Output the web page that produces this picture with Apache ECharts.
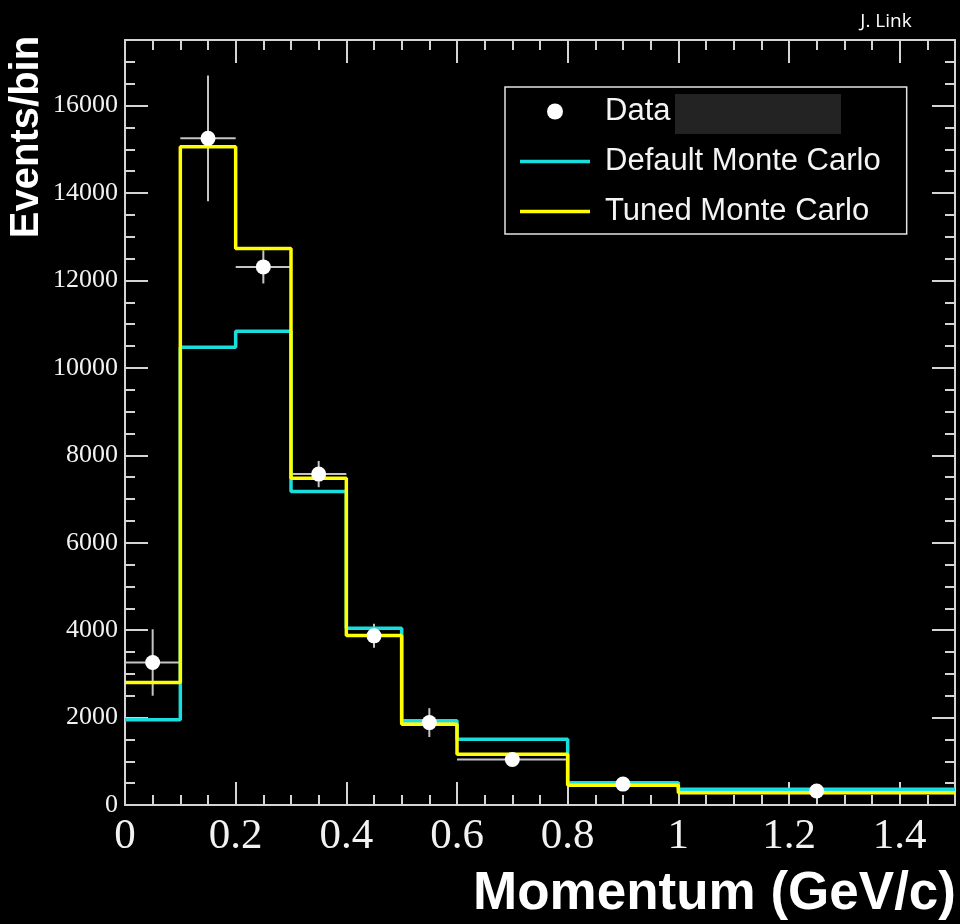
<!DOCTYPE html>
<html>
<head>
<meta charset="utf-8">
<script src="https://cdn.jsdelivr.net/npm/echarts@6/dist/echarts.min.js"></script>
<style>
html,body{margin:0;padding:0;background:#000;}
#chart{width:960px;height:924px;}
</style>
</head>
<body>
<div id="chart"></div>
<script>
// ---- data ----
const binEdges = [0, 0.1, 0.2, 0.3, 0.4, 0.5, 0.6, 0.8, 1.0, 1.5];
const dataValues = [3260, 15250, 12310, 7570, 3870, 1885, 1040, 478, 320];
const dataErrors = [760, 1440, 380, 300, 275, 330, 150, 100, 80];
const defaultMC = [1950, 10470, 10835, 7170, 4045, 1925, 1505, 510, 360];
const tunedMC = [2805, 15060, 12730, 7477, 3876, 1850, 1163, 452, 282];
const xTickLabels = ['0', '0.2', '0.4', '0.6', '0.8', '1', '1.2', '1.4'];
const yTickLabels = ['0', '2000', '4000', '6000', '8000', '10000', '12000', '14000', '16000'];

// ---- build library inputs ----
function stepPoints(vals) {
  const pts = [];
  for (let i = 0; i < vals.length; i++) {
    pts.push([binEdges[i], vals[i]]);
    pts.push([binEdges[i + 1], vals[i]]);
  }
  return pts;
}
const centers = dataValues.map((v, i) => (binEdges[i] + binEdges[i + 1]) / 2);
const scatterData = dataValues.map((v, i) => [centers[i], v]);
const errData = dataValues.map((v, i) => [centers[i], v, binEdges[i], binEdges[i + 1], dataErrors[i]]);

const frameColor = '#d4d4d4';
const labelColor = '#f2f2f2';
const lineIcon = 'path://M0,0L70,0L70,3.5L0,3.5Z';

function xAx(pos, interval, len, labels, line) {
  return {
    type: 'value', position: pos, min: 0, max: 1.5, interval: interval,
    axisLine: { show: line, onZero: false, lineStyle: { color: frameColor, width: 2 } },
    axisTick: { show: true, inside: true, length: len, lineStyle: { color: frameColor, width: 2 } },
    axisLabel: labels ? {
      show: true, color: labelColor, fontFamily: 'Liberation Serif', fontSize: 43, margin: 10,
      formatter: function (v) {
        const k = Math.round(v / 0.2);
        return (Math.abs(v - k * 0.2) < 1e-6 && k < xTickLabels.length) ? xTickLabels[k] : '';
      }
    } : { show: false },
    splitLine: { show: false }
  };
}
function yAx(pos, interval, len, labels, line) {
  return {
    type: 'value', position: pos, min: 0, max: 17500, interval: interval,
    axisLine: { show: line, onZero: false, lineStyle: { color: frameColor, width: 2 } },
    axisTick: { show: true, inside: true, length: len, lineStyle: { color: frameColor, width: 2 } },
    axisLabel: labels ? {
      show: true, color: labelColor, fontFamily: 'Liberation Serif', fontSize: 26, margin: 7,
      formatter: function (v) {
        const k = Math.round(v / 2000);
        return (Math.abs(v - k * 2000) < 1e-6 && k < yTickLabels.length) ? yTickLabels[k] : '';
      }
    } : { show: false },
    splitLine: { show: false }
  };
}

const chart = echarts.init(document.getElementById('chart'), null, { renderer: 'canvas' });
chart.setOption({
  backgroundColor: '#000',
  animation: false,
  grid: { left: 125, right: 5, top: 40, bottom: 119, containLabel: false },
  xAxis: [
    xAx('bottom', 0.2, 23, true, true),
    xAx('bottom', 0.05, 10, false, false),
    xAx('top', 0.2, 23, false, true),
    xAx('top', 0.05, 10, false, false)
  ],
  yAxis: [
    yAx('left', 2000, 23, true, true),
    yAx('left', 500, 10, false, false),
    yAx('right', 2000, 23, false, true),
    yAx('right', 500, 10, false, false)
  ],
  legend: {
    orient: 'vertical', left: 505, top: 87,
    padding: [9, 26, 7, 15],
    itemWidth: 70, itemHeight: 16, itemGap: 19,
    symbolKeepAspect: true,
    borderColor: '#e4e4e4', borderWidth: 1.5,
    selectedMode: false,
    lineStyle: { width: 3.5 },
    textStyle: { color: '#f4f4f4', fontSize: 31, fontFamily: 'Liberation Sans', lineHeight: 31, padding: [0, 0, 0, 10] },
    data: [
      { name: 'Data', icon: 'circle' },
      { name: 'Default Monte Carlo', icon: lineIcon },
      { name: 'Tuned Monte Carlo', icon: lineIcon }
    ]
  },
  series: [
    {
      name: 'errors', type: 'custom', xAxisIndex: 0, yAxisIndex: 0, z: 2,
      data: errData,
      renderItem: function (params, api) {
        const x = api.value(0), y = api.value(1), xl = api.value(2), xh = api.value(3), e = api.value(4);
        const l = api.coord([xl, y]), r = api.coord([xh, y]);
        const t = api.coord([x, y + e]), b = api.coord([x, y - e]);
        const st = { stroke: '#c4c4c4', lineWidth: 2 };
        return {
          type: 'group', children: [
            { type: 'line', shape: { x1: l[0], y1: l[1], x2: r[0], y2: r[1] }, style: st },
            { type: 'line', shape: { x1: t[0], y1: t[1], x2: b[0], y2: b[1] }, style: st }
          ]
        };
      }
    },
    {
      name: 'Default Monte Carlo', type: 'line', xAxisIndex: 0, yAxisIndex: 0, z: 3,
      data: stepPoints(defaultMC), symbol: 'none',
      lineStyle: { color: '#18dede', width: 3.5 }, itemStyle: { color: '#18dede' }
    },
    {
      name: 'Tuned Monte Carlo', type: 'line', xAxisIndex: 0, yAxisIndex: 0, z: 4,
      data: stepPoints(tunedMC), symbol: 'none',
      lineStyle: { color: '#ffff00', width: 3.5 }, itemStyle: { color: '#ffff00' }
    },
    {
      name: 'Data', type: 'scatter', xAxisIndex: 0, yAxisIndex: 0, z: 5,
      data: scatterData, symbol: 'circle', symbolSize: 15,
      itemStyle: { color: '#ffffff', opacity: 1 }
    }
  ],
  graphic: [
    { type: 'rect', left: 675, top: 94, shape: { width: 166, height: 40 }, style: { fill: '#232323' }, z: 100 },
    {
      type: 'text', x: 27, y: 137, rotation: Math.PI / 2,
      style: { text: 'Events/bin', fill: '#ffffff', font: 'bold 40px "Liberation Sans"', align: 'center', verticalAlign: 'middle' }
    },
    {
      type: 'text', x: 956, y: 894,
      style: { text: 'Momentum (GeV/c)', fill: '#ffffff', font: 'bold 53px "Liberation Sans"', align: 'right', verticalAlign: 'middle' }
    },
    {
      type: 'text', x: 886, y: 22,
      style: { text: 'J. Link', fill: '#ffffff', font: '19px "Open Sans"', align: 'center', verticalAlign: 'middle' }
    }
  ]
});
</script>
</body>
</html>
